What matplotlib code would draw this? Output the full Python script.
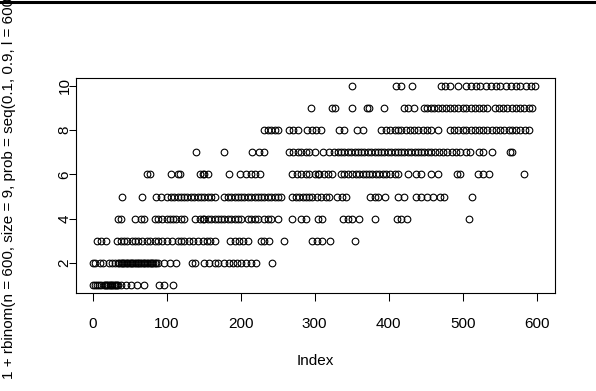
import matplotlib
matplotlib.use("Agg")
import matplotlib.pyplot as plt
from matplotlib.lines import Line2D

# index positions, one list per value of the response
idx_1 = [1, 3, 6, 9, 12, 15, 17, 18, 20, 21, 23, 24, 26, 27, 29, 30, 32, 33, 35,
         38, 45, 52, 60, 70, 90, 96, 109]
idx_2 = [1, 4, 10, 14, 22, 27, 31, 35, 36, 38, 40, 41, 43, 45, 47, 48, 50, 52, 54,
         55, 57, 59, 61, 62, 64, 66, 68, 70, 71, 73, 75, 77, 79, 80, 82, 84, 86,
         89, 97, 104, 113, 134, 139, 150, 158, 165, 169, 178, 185, 190, 195, 201,
         207, 214, 221, 243]
idx_3 = [6, 12, 18, 33, 38, 43, 47, 53, 57, 62, 67, 73, 77, 84, 89, 94, 100, 107,
         115, 120, 124, 130, 136, 142, 149, 154, 159, 165, 186, 192, 198, 203, 210,
         228, 232, 238, 258, 296, 303, 310, 321, 354]
idx_4 = [35, 38, 58, 65, 70, 85, 89, 94, 100, 104, 109, 113, 120, 124, 139, 145,
         149, 151, 156, 160, 165, 169, 174, 178, 183, 187, 192, 196, 201, 210, 214,
         219, 223, 232, 237, 241, 250, 270, 282, 288, 304, 310, 338, 345, 351, 360,
         381, 411, 417, 425, 509]
idx_5 = [40, 67, 86, 93, 100, 106, 110, 115, 119, 124, 128, 133, 137, 142, 146,
         151, 156, 160, 165, 178, 183, 187, 192, 196, 201, 205, 210, 214, 219, 223,
         228, 232, 237, 241, 246, 250, 255, 270, 275, 279, 284, 288, 293, 297, 303,
         309, 315, 320, 330, 337, 343, 375, 381, 386, 395, 413, 421, 437, 443, 452,
         460, 469, 475, 513]
idx_6 = [74, 78, 106, 115, 118, 145, 149, 151, 156, 184, 199, 207, 214, 220, 226,
         270, 276, 282, 288, 293, 300, 304, 306, 312, 318, 323, 336, 340, 345, 350,
         356, 360, 365, 369, 374, 378, 383, 387, 392, 396, 402, 408, 412, 426, 437,
         443, 457, 467, 492, 497, 521, 528, 535, 583]
idx_7 = [140, 177, 216, 225, 232, 266, 271, 277, 282, 288, 293, 300, 311, 320,
         326, 331, 336, 340, 345, 349, 354, 358, 363, 367, 372, 376, 381, 385, 390,
         394, 399, 403, 408, 412, 417, 421, 426, 430, 435, 439, 444, 448, 453, 457,
         463, 468, 474, 479, 485, 491, 497, 504, 510, 522, 528, 540, 564, 566]
idx_8 = [231, 237, 241, 246, 251, 265, 271, 277, 290, 296, 302, 309, 333, 339,
         357, 365, 390, 396, 402, 408, 412, 417, 423, 429, 434, 440, 446, 452, 457,
         466, 483, 488, 494, 500, 505, 511, 517, 522, 528, 533, 539, 545, 550, 556,
         562, 567, 572, 578, 584, 590]
idx_9 = [295, 323, 328, 350, 371, 373, 394, 421, 426, 434, 448, 452, 457, 461,
         466, 472, 477, 483, 488, 494, 500, 505, 511, 517, 522, 528, 533, 544, 549,
         555, 560, 566, 572, 577, 583, 589, 594]
idx_10 = [350, 410, 416, 432, 470, 476, 483, 493, 505, 511, 518, 524, 531, 538,
          545, 551, 559, 565, 572, 578, 585, 592, 598]

values = [1, 2, 3, 4, 5, 6, 7, 8, 9, 10]
positions = [idx_1, idx_2, idx_3, idx_4, idx_5, idx_6, idx_7, idx_8, idx_9, idx_10]

x_ticks = [0, 100, 200, 300, 400, 500, 600]
y_ticks = [2, 4, 6, 8, 10]

plt.rcParams['font.family'] = ['Liberation Sans', 'DejaVu Sans']

W, H = 596, 391
fig = plt.figure(figsize=(W / 100, H / 100), dpi=100)
ax = fig.add_axes([75.5 / W, 1 - 293 / H, 479 / W, 215 / H])

for v, xs in zip(values, positions):
    ax.plot(xs, [v] * len(xs), linestyle='none', marker='o', ms=4.8,
            mfc='none', mec='black', mew=0.8)

ax.set_xlim(-22.96, 623.96)
ax.set_ylim(0.64, 10.36)
ax.set_xticks(x_ticks)
ax.set_yticks(y_ticks)
ax.set_xticklabels([str(t) for t in x_ticks], fontsize=11)
ax.set_yticklabels([str(t) for t in y_ticks], fontsize=11,
                   rotation=90, ha='center', va='center')
ax.tick_params(axis='both', direction='out', length=5.4, width=0.75, color='black')
ax.tick_params(axis='x', pad=12)
ax.tick_params(axis='y', pad=2.5)
for s in ax.spines.values():
    s.set_linewidth(0.8)
    s.set_color('black')

fig.text(315 / W, 1 - 361 / H, "Index", ha='center', va='center', fontsize=11)
# the reference crops the end of this label at the top edge
fig.text(9 / W, 1 - 183 / H,
         "1 + rbinom(n = 600, size = 9, prob = seq(0.1, 0.9, l = 600))",
         rotation=90, ha='center', va='center', fontsize=11)

# dark rule along the top edge of the screenshot
fig.add_artist(Line2D([0, 1], [1 - 1.5 / H, 1 - 1.5 / H], color='black', lw=2.2))

fig.savefig("out.png", dpi=100)
